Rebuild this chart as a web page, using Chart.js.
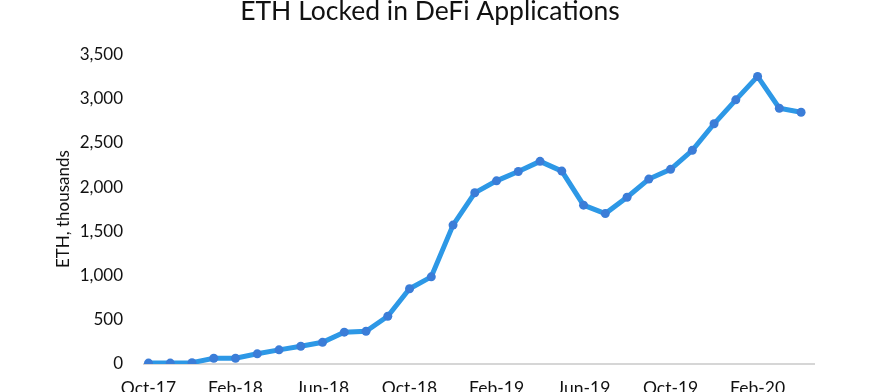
<!DOCTYPE html>
<html>
<head>
<meta charset="utf-8">
<script src="https://cdn.jsdelivr.net/npm/chart.js@4"></script>
<style>
  html, body { margin: 0; padding: 0; background: #ffffff; overflow: hidden; width: 876px; height: 392px; }
  #wrap { position: absolute; left: 0; top: -8px; width: 876px; height: 421px; }
</style>
</head>
<body>
<div id="wrap"><canvas id="c" width="876" height="421"></canvas></div>
<script>
const months = ['Oct-17','Nov-17','Dec-17','Jan-18','Feb-18','Mar-18','Apr-18','May-18','Jun-18','Jul-18','Aug-18','Sep-18',
                'Oct-18','Nov-18','Dec-18','Jan-19','Feb-19','Mar-19','Apr-19','May-19','Jun-19','Jul-19','Aug-19','Sep-19',
                'Oct-19','Nov-19','Dec-19','Jan-20','Feb-20','Mar-20','Apr-20'];
const ethLocked = [10, 10, 15, 65, 65, 115, 160, 200, 245, 360, 370, 540,
                   850, 985, 1570, 1935, 2070, 2175, 2290, 2180, 1795, 1700, 1885, 2090,
                   2200, 2415, 2715, 2985, 3250, 2890, 2845];
const xTickLabels = ['Oct-17','Feb-18','Jun-18','Oct-18','Feb-19','Jun-19','Oct-19','Feb-20'];
const yTicks = [0, 500, 1000, 1500, 2000, 2500, 3000, 3500];

const points = ethLocked.map((v, i) => ({ x: i, y: v }));
const FONT = 'Lato';

new Chart(document.getElementById('c'), {
  type: 'line',
  data: {
    datasets: [{
      label: 'ETH locked',
      data: points,
      borderColor: '#2d98e6',
      borderWidth: 5,
      pointRadius: 4.5,
      pointBackgroundColor: '#3b7dd8',
      pointBorderColor: '#3b7dd8',
      pointBorderWidth: 0,
      tension: 0,
      fill: false
    }]
  },
  options: {
    responsive: false,
    animation: false,
    devicePixelRatio: 1,
    layout: { padding: { left: 45, right: 61, top: 0, bottom: 0 } },
    plugins: {
      legend: { display: false },
      tooltip: { enabled: false },
      title: {
        display: true,
        text: 'ETH Locked in DeFi Applications',
        color: '#111111',
        font: { family: FONT, size: 26.5, weight: 'normal' },
        padding: { top: 4, bottom: 26.5 }
      }
    },
    scales: {
      x: {
        type: 'linear',
        min: -0.253,
        max: 30.64,
        grid: { display: false, drawTicks: false },
        border: { display: false },
        afterBuildTicks: (scale) => {
          scale.ticks = xTickLabels.map(l => ({ value: months.indexOf(l) }));
        },
        ticks: {
          autoSkip: false,
          maxRotation: 0,
          padding: 14,
          color: '#111111',
          font: { family: FONT, size: 17.5 },
          callback: (v) => months[v]
        }
      },
      y: {
        min: 0,
        max: 3500,
        afterBuildTicks: (scale) => {
          scale.ticks = yTicks.map(v => ({ value: v }));
        },
        afterFit: (scale) => { scale.width = 98; },
        grid: {
          drawTicks: false,
          color: (ctx) => (ctx.tick && ctx.tick.value === 0) ? '#d6d6d6' : 'rgba(0,0,0,0)',
          lineWidth: 2
        },
        border: { display: false },
        ticks: {
          padding: 20,
          color: '#111111',
          font: { family: FONT, size: 17 },
          callback: (v) => v.toLocaleString('en-US')
        },
        title: {
          display: true,
          text: 'ETH, thousands',
          color: '#111111',
          font: { family: FONT, size: 17 },
          padding: { top: 8, bottom: 0 }
        }
      }
    }
  }
});
</script>
</body>
</html>
